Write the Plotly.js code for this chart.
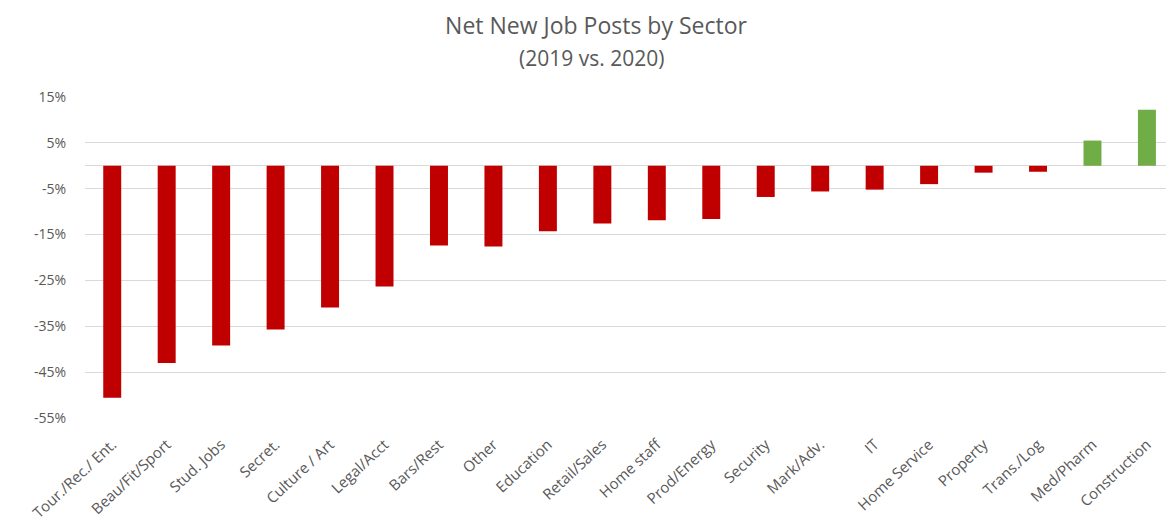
<!DOCTYPE html>
<html><head><meta charset="utf-8">
<script src="https://cdn.plot.ly/plotly-3.0.1.min.js"></script>
<style>html,body{margin:0;padding:0;overflow:hidden;background:#fff}</style>
</head><body>
<div id="chart" style="width:1166px;height:528px"></div>
<script>
const categories = ["Tour./Rec./ Ent.","Beau/Fit/Sport","Stud. Jobs","Secret.","Culture / Art","Legal/Acct","Bars/Rest","Other","Education","Retail/Sales","Home staff","Prod/Energy","Security","Mark/Adv.","IT","Home Service","Property","Trans./Log","Med/Pharm","Construction"];
const values = [-50.6,-43.0,-39.2,-35.7,-30.9,-26.3,-17.4,-17.6,-14.3,-12.6,-11.9,-11.6,-6.8,-5.6,-5.2,-4.0,-1.5,-1.3,5.5,12.2];
const tickVals = [15,5,-5,-15,-25,-35,-45,-55];
const tickText = ["15%","5%","-5%","-15%","-25%","-35%","-45%","-55%"];
const titleText = "Net New Job Posts by Sector";
const subtitleText = "(2019 vs. 2020)";

const colors = values.map(v => v >= 0 ? "#70AD47" : "#C00000");
const font = "Open Sans, Noto Sans, sans-serif";
Plotly.newPlot("chart", [{
  type: "bar", x: categories, y: values,
  marker: {color: colors},
  hoverinfo: "x+y"
}], {
  width: 1166, height: 528,
  margin: {l: 85, r: 0, t: 97, b: 110},
  paper_bgcolor: "#fff", plot_bgcolor: "#fff",
  bargap: 0.67,
  title: {text: titleText, x: 596/1166, xref: "container", xanchor: "center",
          y: 1 - 26/528, yref: "container", yanchor: "middle",
          font: {family: font, size: 23, color: "#595959"}},
  annotations: [{text: subtitleText, xref: "paper", yref: "paper",
          x: (591 - 85) / 1081, y: (418 - 58) / 321, xanchor: "center", yanchor: "middle",
          showarrow: false, font: {family: font, size: 21, color: "#595959"}}],
  xaxis: {range: [-0.5, 19.35], tickangle: -43, showgrid: false, showline: false,
          ticks: "", ticklabelstandoff: 14,
          tickfont: {family: font, size: 15, color: "#595959"}, automargin: false},
  yaxis: {range: [-55, 15], tickvals: tickVals, ticktext: tickText, showgrid: true,
          gridcolor: "#d9d9d9", gridwidth: 1, zeroline: true, zerolinecolor: "#d9d9d9",
          zerolinewidth: 1, ticks: "", ticklabelstandoff: 18,
          tickfont: {family: font, size: 14, color: "#595959"}, automargin: false},
  showlegend: false
}, {displayModeBar: false});
</script>
</body></html>
